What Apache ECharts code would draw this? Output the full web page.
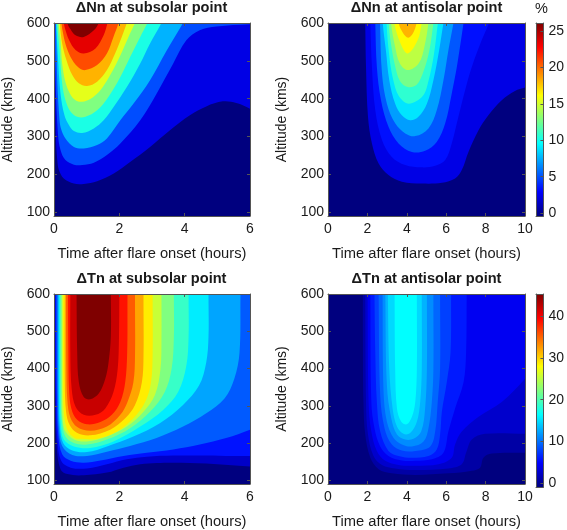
<!DOCTYPE html>
<html>
<head>
<meta charset="utf-8">
<style>html,body{margin:0;padding:0;background:#fff}#c{width:567px;height:530px}</style>
<script src="https://cdn.jsdelivr.net/npm/echarts@6/dist/echarts.min.js"></script>
</head>
<body>
<div id="c"></div>
<script>
// Contour level values (percent or kelvin) and outlines as [hours, km].
const nnSubsolarLevels = [2.6, 5.2, 7.8, 10.4, 13, 15.6, 18.2, 20.8, 23.4, 26];
const nnSubsolarContours = [
  [[0,650],[.01,600],[.03,450],[.06,300],[.10,245],[.15,219],[.30,197],[.61,184],[.91,183],[1.32,190],[1.83,210],[2.33,240],[2.94,279],[3.55,322],[4.16,361],[4.66,384],[5.17,397],[5.58,393],[6,378],[6.5,350],[7,700]],
  [[.01,650],[.02,600],[.05,450],[.12,314],[.20,271],[.35,245],[.61,233],[.86,232],[1.22,238],[1.62,258],[2.03,288],[2.64,348],[3.14,417],[3.65,495],[4.05,555],[4.46,581],[4.97,591],[6,597],[6.5,598],[7,700]],
  [[.05,650],[.06,600],[.10,450],[.17,349],[.22,325],[.35,301],[.61,279],[.91,275],[1.32,284],[1.62,301],[2.03,348],[2.43,391],[2.94,452],[3.45,529],[3.95,600],[4.2,640]],
  [[.06,650],[.07,600],[.12,512],[.20,417],[.32,361],[.46,335],[.61,320],[.86,315],[1.22,327],[1.52,348],[1.83,383],[2.23,434],[2.64,495],[2.94,547],[3.29,600],[3.5,640]],
  [[.09,650],[.10,600],[.17,529],[.25,443],[.35,400],[.51,370],[.71,357],[.96,357],[1.32,374],[1.67,409],[2.03,460],[2.33,512],[2.64,564],[2.86,600],[3.1,640]],
  [[.13,650],[.14,600],[.20,555],[.25,495],[.35,447],[.49,417],[.66,400],[.86,396],[1.11,403],[1.42,426],[1.72,465],[2.03,516],[2.28,564],[2.48,600],[2.7,640]],
  [[.16,650],[.18,600],[.25,547],[.38,504],[.56,465],[.76,444],[1.01,437],[1.32,448],[1.62,478],[1.87,521],[2.08,565],[2.23,600],[2.4,640]],
  [[.20,650],[.23,600],[.28,572],[.38,538],[.56,504],[.76,484],[.96,478],[1.32,491],[1.62,521],[1.82,564],[1.98,600],[2.15,640]],
  [[.25,650],[.30,600],[.35,582],[.46,556],[.66,530],[.91,521],[1.27,534],[1.52,568],[1.64,600],[1.8,640]],
  [[.34,650],[.41,600],[.51,583],[.66,568],[.91,564],[1.22,581],[1.37,600],[1.55,640]]
];

const nnAntisolarLevels = [2.6, 3.64, 5.46, 7.28, 9.1, 10.92, 12.74, 14.56, 16.38, 18.2];
const nnAntisolarContours = [
  [[1.87,650],[1.89,600],[1.93,486],[2.03,357],[2.23,288],[2.57,236],[3.07,206],[3.75,189],[4.76,184],[5.78,186],[6.45,197],[6.79,219],[7.13,266],[7.64,322],[8.14,361],[8.82,400],[9.49,424],[10,433],[10.6,445],[11.5,700]],
  [[2.13,650],[2.15,600],[2.23,486],[2.40,374],[2.74,297],[3.24,253],[3.92,232],[4.76,226],[5.44,230],[5.95,245],[6.28,288],[6.62,357],[6.96,426],[7.30,486],[7.80,555],[8.18,600],[8.5,640]],
  [[2.38,650],[2.40,600],[2.48,486],[2.69,400],[3.07,331],[3.58,288],[4.26,266],[4.93,269],[5.52,292],[5.95,340],[6.28,417],[6.54,486],[6.80,572],[6.88,600],[7.0,640]],
  [[2.62,650],[2.64,600],[2.74,469],[2.99,391],[3.41,340],[3.92,314],[4.43,307],[5.10,327],[5.52,374],[5.86,452],[6.11,529],[6.37,600],[6.5,640]],
  [[2.77,650],[2.78,600],[2.94,529],[3.11,452],[3.41,391],[3.75,361],[4.17,348],[4.59,357],[5.02,391],[5.35,452],[5.64,529],[5.86,600],[6.0,640]],
  [[2.95,650],[2.97,600],[3.1,520],[3.3,455],[3.6,410],[4.1,391],[4.8,410],[5.1,450],[5.38,520],[5.58,600],[5.7,640]],
  [[3.06,650],[3.08,600],[3.2,545],[3.4,490],[3.65,450],[4.05,434],[4.5,440],[4.85,475],[5.15,530],[5.35,600],[5.45,640]],
  [[3.17,650],[3.2,600],[3.4,540],[3.65,495],[4.05,478],[4.6,495],[4.9,540],[5.10,600],[5.2,640]],
  [[3.3,650],[3.36,600],[3.7,545],[4.05,521],[4.55,555],[4.76,600],[4.9,640]],
  [[3.45,650],[3.58,600],[3.8,575],[4.07,562],[4.3,572],[4.5,600],[4.65,650]]
];

const tnSubsolarLevels = [3.2, 6.4, 9.6, 12.9, 16.1, 19.3, 22.5, 25.7, 28.9, 32.1, 35.4, 38.6, 41.8, 45];
const tnSubsolarContours = [
  [[.02,650],[.02,600],[.04,320],[.08,200],[.20,139],[.41,126],[.91,123],[1.62,130],[2.13,143],[2.64,152],[3.14,155],[3.65,156],[4.66,154],[6,146],[6.5,143],[7,700]],
  [[.04,650],[.04,600],[.06,320],[.10,220],[.22,161],[.51,143],[1.01,141],[1.62,152],[2.23,165],[2.84,172],[3.65,175],[4.46,175],[5.27,174],[6,174],[6.5,174],[7,700]],
  [[.07,650],[.07,600],[.09,320],[.13,230],[.25,178],[.51,161],[.91,156],[1.42,162],[2.13,174],[2.84,182],[3.65,191],[4.46,204],[5.27,221],[6,243],[6.5,260],[7,700]],
  [[.11,650],[.11,600],[.12,320],[.15,245],[.25,200],[.56,176],[1.01,174],[1.62,185],[2.33,200],[3.14,221],[3.95,251],[4.66,286],[5.22,325],[5.52,377],[5.68,446],[5.71,600],[5.73,650]],
  [[.14,650],[.14,600],[.15,320],[.18,250],[.28,208],[.56,188],[1.01,184],[1.62,199],[2.43,225],[3.24,260],[3.95,308],[4.44,359],[4.66,420],[4.73,489],[4.73,600],[4.74,650]],
  [[.17,650],[.17,600],[.18,320],[.21,255],[.30,217],[.61,199],[1.11,195],[1.82,212],[2.64,251],[3.34,295],[3.80,342],[4.05,411],[4.12,489],[4.12,600],[4.13,650]],
  [[.20,650],[.20,600],[.21,320],[.25,260],[.35,225],[.61,208],[1.01,204],[1.62,217],[2.33,247],[2.94,290],[3.39,342],[3.60,403],[3.67,489],[3.67,600],[3.68,650]],
  [[.24,650],[.24,600],[.25,310],[.28,260],[.35,238],[.61,217],[1.01,212],[1.62,225],[2.23,251],[2.74,290],[3.09,334],[3.26,403],[3.29,489],[3.29,600],[3.3,650]],
  [[.28,650],[.28,600],[.28,350],[.31,280],[.42,240],[.62,222],[.81,219],[1.32,219],[1.93,238],[2.43,273],[2.79,316],[2.97,368],[3.02,446],[3.02,600],[3.03,650]],
  [[.33,650],[.33,600],[.33,370],[.37,290],[.48,255],[.70,235],[1.11,228],[1.72,243],[2.18,273],[2.48,308],[2.69,368],[2.74,437],[2.74,600],[2.75,650]],
  [[.37,650],[.37,600],[.38,400],[.41,320],[.50,275],[.71,250],[1.11,240],[1.62,251],[2.03,282],[2.25,316],[2.43,368],[2.48,437],[2.48,600],[2.49,650]],
  [[.43,650],[.43,600],[.44,450],[.46,350],[.53,299],[.71,269],[1.01,257],[1.42,263],[1.77,282],[2.03,316],[2.18,368],[2.24,446],[2.25,600],[2.26,650]],
  [[.50,650],[.50,600],[.50,446],[.54,351],[.66,303],[.91,282],[1.27,282],[1.57,299],[1.82,342],[1.95,403],[1.99,489],[2.0,600],[2.0,650]],
  [[.69,650],[.69,600],[.71,446],[.76,368],[.91,329],[1.11,323],[1.37,338],[1.57,377],[1.67,420],[1.74,489],[1.74,600],[1.74,650]]
];

const tnAntisolarLevels = [1.69, 3.38, 5.06, 6.75, 8.44, 10.13, 11.81, 13.5, 15.19, 16.88];
const tnAntisolarContours = [
  [[1.77,650],[1.77,600],[1.77,489],[1.80,316],[1.89,230],[2.15,169],[2.57,139],[3.24,128],[4.43,124],[6.11,128],[7.30,135],[7.72,143],[7.89,169],[8.31,180],[10,182],[10.6,182],[11.5,700]],
  [[1.89,650],[1.89,600],[1.93,316],[2.03,230],[2.31,174],[2.74,150],[3.41,141],[4.43,137],[6.11,141],[6.79,152],[7.01,182],[7.30,217],[7.97,232],[10,232],[10.6,232],[11.5,700]],
  [[2.01,650],[2.01,600],[2.06,316],[2.20,238],[2.48,187],[2.91,161],[3.58,150],[4.43,148],[5.61,152],[6.28,169],[6.45,204],[6.79,238],[7.64,277],[8.82,316],[10,377],[10.6,420],[11.5,700]],
  [[2.15,650],[2.15,600],[2.20,316],[2.36,247],[2.65,199],[3.07,174],[3.75,162],[4.43,161],[5.27,165],[5.86,182],[6.11,238],[6.45,299],[6.88,368],[7.01,446],[7.04,600],[7.05,650]],
  [[2.36,650],[2.36,600],[2.40,446],[2.48,316],[2.65,238],[3.07,187],[3.58,174],[4.26,169],[5.10,174],[5.52,191],[5.69,230],[5.78,290],[6.03,368],[6.22,446],[6.25,600],[6.26,650]],
  [[2.57,650],[2.57,600],[2.65,334],[2.87,247],[3.24,204],[3.75,188],[4.43,187],[5.19,199],[5.44,238],[5.57,316],[5.69,403],[5.69,600],[5.7,650]],
  [[2.77,650],[2.77,600],[2.82,342],[2.99,264],[3.33,221],[3.75,204],[4.26,199],[4.85,212],[5.10,247],[5.27,316],[5.35,403],[5.35,600],[5.36,650]],
  [[2.91,650],[2.91,600],[2.99,360],[3.21,273],[3.50,230],[3.92,217],[4.34,219],[4.73,238],[4.93,299],[5.02,403],[5.02,600],[5.03,650]],
  [[3.04,650],[3.04,600],[3.11,403],[3.28,299],[3.50,251],[3.83,232],[4.17,234],[4.51,264],[4.68,316],[4.76,403],[4.76,600],[4.77,650]],
  [[3.38,650],[3.38,600],[3.41,403],[3.50,299],[3.72,264],[4.0,257],[4.26,277],[4.43,316],[4.51,403],[4.51,600],[4.52,650]]
];

const subsolarHours = [0, 2, 4, 6];
const antisolarHours = [0, 2, 4, 6, 8, 10];
const altitudeTicks = [100, 200, 300, 400, 500, 600];
const altitudeFloor = 90;   // the frame ends a little below the 100 km tick
const nnColorbarTicks = [0, 5, 10, 15, 20, 25];
const tnColorbarTicks = [0, 10, 20, 30, 40];
const nnColorRange = [-0.4, 26.1];
const tnColorRange = [-0.9, 45.3];

// The outlines were read against a 100-600 frame; the frame really spans altitudeFloor-600.
const calibrateAltitude = a => 600 - (600 - a) * (600 - altitudeFloor) / 500;

const jetStops = [[0,[0,0,127]],[.125,[0,0,255]],[.375,[0,255,255]],[.625,[255,255,0]],[.875,[255,0,0]],[1,[127,0,0]]];
function jet(v) {
  v = Math.max(0, Math.min(1, v));
  for (let i = 1; i < jetStops.length; i++) {
    if (v <= jetStops[i][0]) {
      const a = jetStops[i-1], b = jetStops[i], f = (v - a[0]) / (b[0] - a[0]);
      return 'rgb(' + a[1].map((c, k) => Math.round(c + (b[1][k] - c) * f)).join(',') + ')';
    }
  }
  return 'rgb(127,0,0)';
}
const font = '"Liberation Sans", Arial, sans-serif';
const ink = '#1a1a1a', frame = '#555';

const panels = [
  {title:'ΔNn at subsolar point', left:53, top:23, hours:subsolarHours, levels:nnSubsolarLevels, contours:nnSubsolarContours, clim:26},
  {title:'ΔNn at antisolar point', left:328, top:23, hours:antisolarHours, levels:nnAntisolarLevels, contours:nnAntisolarContours, clim:26},
  {title:'ΔTn at subsolar point', left:53, top:294, hours:subsolarHours, levels:tnSubsolarLevels, contours:tnSubsolarContours, clim:45},
  {title:'ΔTn at antisolar point', left:328, top:294, hours:antisolarHours, levels:tnAntisolarLevels, contours:tnAntisolarContours, clim:45}
];
const bars = [
  {top:23, range:nnColorRange, ticks:nnColorbarTicks},
  {top:294, range:tnColorRange, ticks:tnColorbarTicks}
];

const grid = [], xAxis = [], yAxis = [], series = [], title = [];
const line = {show:true, onZero:false, lineStyle:{color:frame, width:1}};
const tick = {show:true, inside:true, length:3, lineStyle:{color:frame, width:1}};
const yTick = Object.assign({}, tick, {customValues:altitudeTicks});

panels.forEach((p, g) => {
  grid.push({left:p.left, top:p.top, width:197, height:193, show:true, backgroundColor:jet(0), borderWidth:0});
  title.push({text:p.title, left:p.left + 98.5, top:p.top - 23, textAlign:'center', padding:0,
    textStyle:{fontFamily:font, fontSize:14.6, fontWeight:'bold', color:ink}});
  const hMax = p.hours[p.hours.length - 1];
  const xi = xAxis.length, yi = yAxis.length;
  xAxis.push({gridIndex:g, type:'value', z:6, position:'bottom', min:0, max:hMax, interval:2, splitLine:{show:false}, axisLine:line, axisTick:tick,
    name:'Time after flare onset (hours)', nameLocation:'middle', nameGap:30,
    nameTextStyle:{fontFamily:font, fontSize:14.7, color:ink},
    axisLabel:{fontFamily:font, fontSize:14, color:ink, margin:6}});
  xAxis.push({gridIndex:g, type:'value', z:6, position:'top', min:0, max:hMax, interval:2, splitLine:{show:false}, axisLine:line, axisTick:tick, axisLabel:{show:false}});
  yAxis.push({gridIndex:g, type:'value', z:6, position:'left', min:altitudeFloor, max:600, splitLine:{show:false}, axisLine:line, axisTick:yTick,
    name:'Altitude (kms)', nameLocation:'middle', nameGap:39,
    nameTextStyle:{fontFamily:font, fontSize:14, color:ink},
    axisLabel:{fontFamily:font, fontSize:14, color:ink, margin:4, customValues:altitudeTicks}});
  yAxis.push({gridIndex:g, type:'value', z:6, position:'right', min:altitudeFloor, max:600, splitLine:{show:false}, axisLine:line, axisTick:yTick, axisLabel:{show:false}});
  series.push({
    type:'custom', xAxisIndex:xi, yAxisIndex:yi, clip:true, silent:true, animation:false,
    data:p.contours.map((c, i) => [i]),
    encode:{x:0},
    renderItem:(params, api) => {
      const i = api.value(0);
      return {type:'polygon', silent:true,
        shape:{points:p.contours[i].map(pt => api.coord([pt[0], calibrateAltitude(pt[1])])), smooth:0.35},
        style:{fill:jet(p.levels[i] / p.clim)}};
    }
  });
});

bars.forEach((b) => {
  const g = grid.length, xi = xAxis.length, yi = yAxis.length;
  grid.push({left:536, top:b.top, width:11, height:193});
  xAxis.push({gridIndex:g, type:'value', min:0, max:1, position:'bottom', z:6, splitLine:{show:false}, axisLine:line, axisTick:{show:false}, axisLabel:{show:false}});
  xAxis.push({gridIndex:g, type:'value', min:0, max:1, position:'top', z:6, splitLine:{show:false}, axisLine:line, axisTick:{show:false}, axisLabel:{show:false}});
  yAxis.push({gridIndex:g, type:'value', min:b.range[0], max:b.range[1], position:'right', z:6, splitLine:{show:false}, axisLine:line,
    axisTick:{show:true, inside:true, length:3, lineStyle:{color:frame}, customValues:b.ticks},
    axisLabel:{fontFamily:font, fontSize:14, color:ink, margin:5, customValues:b.ticks}});
  yAxis.push({gridIndex:g, type:'value', min:b.range[0], max:b.range[1], position:'left', z:6, splitLine:{show:false}, axisLine:line, axisTick:{show:false}, axisLabel:{show:false}});
  series.push({
    type:'custom', xAxisIndex:xi, yAxisIndex:yi, clip:true, silent:true, animation:false,
    data:[[0, b.range[0], 1, b.range[1]]],
    encode:{x:[0,2], y:[1,3]},
    renderItem:(params, api) => {
      const p0 = api.coord([api.value(0), api.value(1)]);
      const p1 = api.coord([api.value(2), api.value(3)]);
      const stops = [];
      for (let k = 0; k <= 64; k++) stops.push({offset:k / 64, color:jet(1 - k / 64)});
      return {type:'rect', silent:true,
        shape:{x:p0[0], y:p1[1], width:p1[0] - p0[0], height:p0[1] - p1[1]},
        style:{fill:new echarts.graphic.LinearGradient(0, 0, 0, 1, stops)}};
    }
  });
});

const chart = echarts.init(document.getElementById('c'), null, {renderer:'canvas'});
chart.setOption({
  animation:false, backgroundColor:'#fff', grid, xAxis, yAxis, series, title,
  graphic:[{type:'text', left:535, top:1, style:{text:'%', fontFamily:font, fontSize:14.5, fill:ink}}]
});
</script>
</body>
</html>
